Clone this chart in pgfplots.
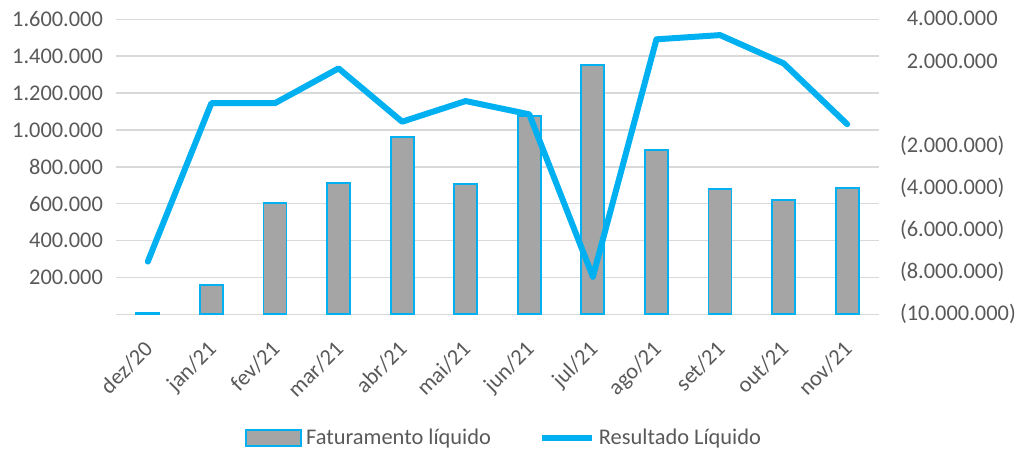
\documentclass[border=0pt]{standalone}
\usepackage{pgfplots}
\pgfplotsset{compat=1.18}
\usepackage{fontspec}
\setmainfont{Carlito}
\definecolor{lblue}{HTML}{00B0F0}
\definecolor{bgray}{HTML}{A5A5A5}
\definecolor{txt}{HTML}{595959}
\definecolor{gridc}{HTML}{D9D9D9}
\newcommand{\lblfont}{\fontsize{11.2}{13}\selectfont}
\pgfplotsset{
  barlegend/.style={legend image code/.code={\draw[fill=bgray, draw=lblue, line width=0.9pt] (0pt,-4pt) rectangle (27.5pt,4pt);}},
  linelegend/.style={legend image code/.code={\draw[##1, line cap=butt] (0pt,0pt) -- (25pt,0pt);}},
}
\begin{document}
\begin{tikzpicture}
\useasboundingbox (0,0) rectangle (511.5pt,227pt);
\begin{axis}[
  at={(58pt,69.85pt)}, anchor=south west,
  scale only axis, width=381.5pt, height=147.5pt,
  xmin=-0.5, xmax=11.5, ymin=0, ymax=1600000,
  axis x line*=bottom, axis y line*=left,
  y axis line style={draw=none},
  x axis line style={draw=gridc, line width=0.75pt, -},
  scaled y ticks=false,
  ytick={0,200000,400000,600000,800000,1000000,1200000,1400000,1600000},
  yticklabels={,200.000,400.000,600.000,800.000,1.000.000,1.200.000,1.400.000,1.600.000},
  ymajorgrids, grid style={draw=gridc, line width=0.75pt},
  ytick style={draw=none},
  xtick={0,...,11},
  xticklabels={dez/20,jan/21,fev/21,mar/21,abr/21,mai/21,jun/21,jul/21,ago/21,set/21,out/21,nov/21},
  xtick style={draw=none},
  extra x ticks={-0.5,0.5,1.5,2.5,3.5,4.5,5.5,6.5,7.5,8.5,9.5,10.5,11.5},
  extra x tick labels={},
  extra x tick style={tick style={draw=gridc, line width=0.75pt}, major tick length=4pt, tick align=outside, grid=none},
  tick label style={font=\lblfont, text=txt},
  yticklabel style={xshift=-3pt},
  xticklabel style={yshift=-11pt, xshift=-2.5pt, rotate=45, anchor=north east, inner sep=1pt},
]
\addplot[ybar, bar width=11.5pt, fill=bgray, draw=lblue, line width=0.9pt] coordinates {
(0,10000) (1,160000) (2,602000) (3,710000) (4,962000) (5,705000)
(6,1074000) (7,1350000) (8,893000) (9,681000) (10,620000) (11,687000)};
\end{axis}
\begin{axis}[
  at={(58pt,69.85pt)}, anchor=south west,
  scale only axis, width=381.5pt, height=147.5pt,
  xmin=-0.5, xmax=11.5, ymin=-10000000, ymax=4000000,
  axis x line=none, axis y line*=right,
  y axis line style={draw=none},
  scaled y ticks=false,
  ytick={-10000000,-8000000,-6000000,-4000000,-2000000,0,2000000,4000000},
  yticklabels={(10.000.000),(8.000.000),(6.000.000),(4.000.000),(2.000.000),{},\phantom{(}2.000.000,\phantom{(}4.000.000},
  ytick style={draw=none},
  tick label style={font=\lblfont, text=txt},
  yticklabel style={anchor=west, xshift=7pt},
  legend columns=2,
  legend style={at={(0.51,-0.419)}, anchor=center, draw=none, fill=none, font=\lblfont, text=txt,
    /tikz/every even column/.append style={column sep=22pt}},
]
\addlegendimage{barlegend}
\addlegendentry{Faturamento líquido}
\addplot[lblue, line width=3pt, line join=round, line cap=round, linelegend] coordinates {
(0,-7500000) (1,20000) (2,20000) (3,1670000) (4,-860000) (5,120000)
(6,-510000) (7,-8220000) (8,3050000) (9,3250000) (10,1910000) (11,-980000)};
\addlegendentry{Resultado Líquido}
\end{axis}
\end{tikzpicture}
\end{document}
